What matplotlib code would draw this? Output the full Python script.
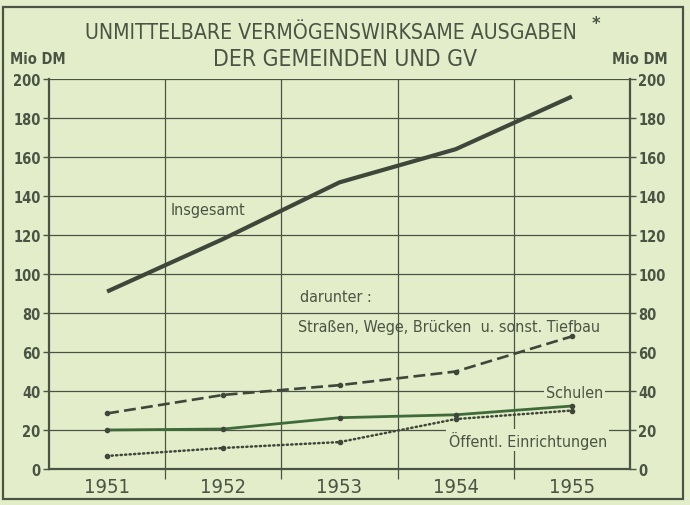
import matplotlib.pyplot as plt
from matplotlib.patches import Rectangle

# Daten (Mio DM)
jahre = [1951, 1952, 1953, 1954, 1955]
insgesamt = [91, 118, 147, 164, 191]
strassen = [28.5, 38, 43, 50, 68]
schulen = [20, 20.5, 26.3, 27.8, 32.3]
oeffentl = [6.7, 10.8, 13.8, 25.6, 30]

bg = '#e4edc9'
ink = '#4a5444'
dunkel = '#3e473a'
gruen = '#3f6b3a'

plt.rcParams['font.family'] = ['DejaVu Sans']
plt.rcParams['font.stretch'] = 'condensed'

fig = plt.figure(figsize=(6.9, 5.06), dpi=100, facecolor=bg)
ax = fig.add_axes([49/690, 36/506, 581/690, 390/506])
ax.set_facecolor(bg)

# Rahmen
fig.patches.append(Rectangle((3/690, 6/506), 680/690, 492/506, transform=fig.transFigure,
                             fill=False, edgecolor=ink, linewidth=1.6))

ax.set_xlim(1950.5, 1955.5)
ax.set_ylim(0, 200)

# Gitter
for y in range(20, 201, 20):
    ax.axhline(y, color=ink, linewidth=0.9, zorder=1)
for x in [1951.5, 1952.5, 1953.5, 1954.5]:
    ax.axvline(x, color=ink, linewidth=0.9, zorder=1)

# Linien
ax.plot(jahre, insgesamt, color=dunkel, linewidth=3.0, solid_capstyle='butt', zorder=4)
ax.plot(jahre, strassen, color=dunkel, linewidth=1.9, linestyle=(0, (4.5, 2)),
        marker='o', markersize=3, zorder=4)
ax.plot(jahre, schulen, color=gruen, linewidth=2.0, marker='o', markersize=3,
        markerfacecolor=dunkel, markeredgecolor=dunkel, zorder=4)
ax.plot(jahre, oeffentl, color=dunkel, linewidth=1.8, linestyle=(0, (0.5, 1.3)),
        dash_capstyle='round', marker='o', markersize=3, zorder=4)

# Achsen
for s in ['top', 'right']:
    ax.spines[s].set_visible(False)
ax.spines['left'].set_color(ink)
ax.spines['left'].set_linewidth(1.6)
ax.spines['bottom'].set_color(ink)
ax.spines['bottom'].set_linewidth(1.6)

ax.set_yticks(range(0, 201, 20))
ax.tick_params(axis='y', direction='out', length=4, width=1, colors=ink,
               labelsize=10.5, pad=2)
for t in ax.get_yticklabels():
    t.set_fontweight('bold')
ax.set_xticks(jahre)
ax.set_xticks([1951.5, 1952.5, 1953.5, 1954.5], minor=True)
ax.tick_params(axis='x', which='major', length=0, colors=ink, labelsize=14.5, pad=6)
ax.tick_params(axis='x', which='minor', direction='out', length=7, width=0.9, color=ink)

ax2 = ax.twinx()
ax2.set_ylim(0, 200)
ax2.set_yticks(range(0, 201, 20))
for s in ['top', 'left', 'bottom']:
    ax2.spines[s].set_visible(False)
ax2.spines['right'].set_color(ink)
ax2.spines['right'].set_linewidth(1.6)
ax2.tick_params(axis='y', direction='out', length=4, width=1, colors=ink,
                labelsize=10.5, pad=2)
for t in ax2.get_yticklabels():
    t.set_fontweight('bold')

# Beschriftungen
kw = dict(color=ink, fontsize=11.5, zorder=5)
ax.text(1951.55, 133, 'Insgesamt', va='center', **kw)
ax.text(1952.66, 88.5, 'darunter :', va='center', **kw)
ax.text(1952.64, 73, 'Straßen, Wege, Brücken  u. sonst. Tiefbau', va='center', **kw)
ax.text(1955.27, 39, 'Schulen', ha='right', va='center',
        bbox=dict(facecolor=bg, edgecolor='none', pad=1.5), **kw)
ax.text(1955.3, 15, 'Öffentl. Einrichtungen', ha='right', va='center',
        bbox=dict(facecolor=bg, edgecolor='none', pad=1.5), **kw)

fig.text(331/690, 473/506, 'UNMITTELBARE VERMÖGENSWIRKSAME AUSGABEN', ha='center',
         va='center', color=ink, fontsize=15.2)
fig.text(596/690, 482/506, '*', ha='center', va='center', color=ink, fontsize=13,
         fontweight='bold')
fig.text(345/690, 447/506, 'DER GEMEINDEN UND GV', ha='center', va='center',
         color=ink, fontsize=16.5)
fig.text(10/690, 446/506, 'Mio DM', ha='left', va='center', color=ink,
         fontsize=10.5, fontweight='bold')
fig.text(668/690, 446/506, 'Mio DM', ha='right', va='center', color=ink,
         fontsize=10.5, fontweight='bold')

fig.savefig('out.png', dpi=100, facecolor=bg)
